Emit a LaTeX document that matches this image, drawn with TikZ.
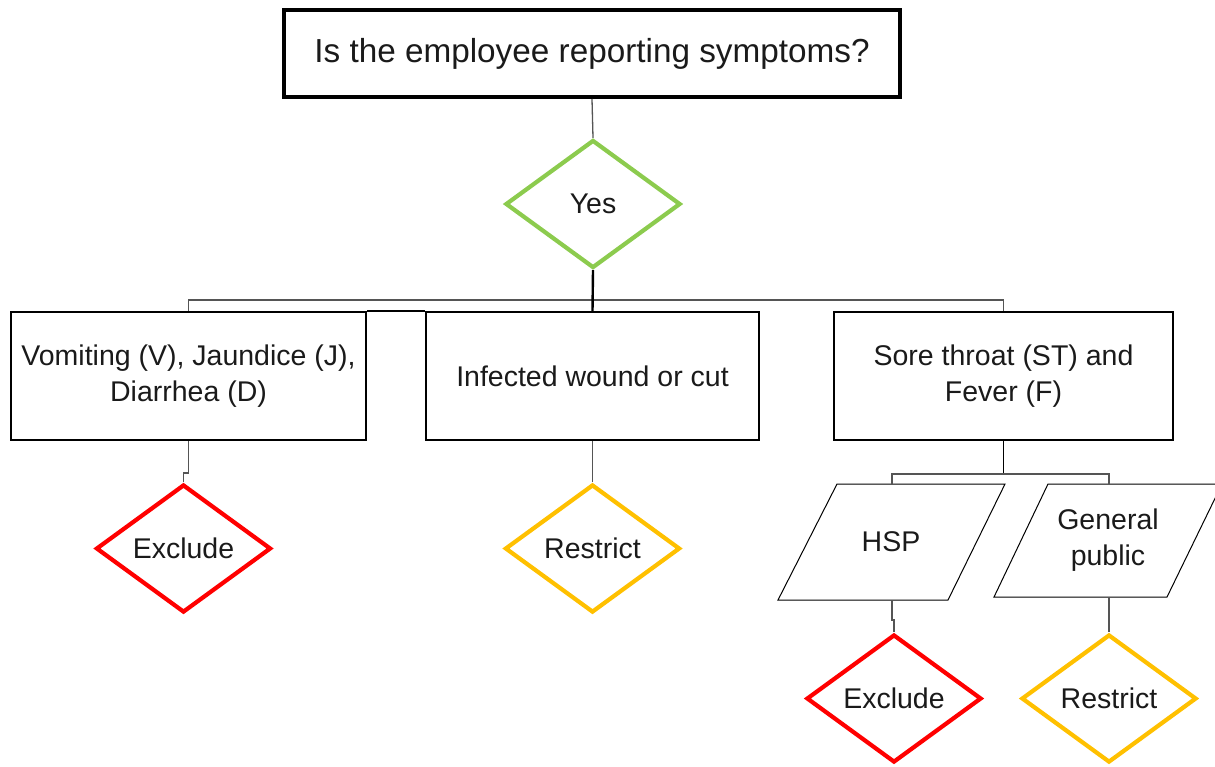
\documentclass[tikz,border=0pt]{standalone}
\usepackage{fontspec}
\setmainfont{Liberation Sans}
\usetikzlibrary{shapes.geometric}
\definecolor{yesgreen}{HTML}{8CCB4E}
\definecolor{exred}{HTML}{FF0000}
\definecolor{resorange}{HTML}{FFC000}
\definecolor{conngray}{HTML}{555555}
\definecolor{txt}{HTML}{1A1A1A}
\begin{document}
\begin{tikzpicture}[x=1pt,y=-1pt,
  every node/.style={text=txt, font=\fontsize{28.5}{35.5}\selectfont},
  topbox/.style={draw=black, line width=4pt, minimum width=616pt, minimum height=87pt, inner sep=0pt, font=\fontsize{33.3}{40}\selectfont},
  catbox/.style={draw=black, line width=2.2pt, minimum height=128pt, inner sep=0pt, align=center},
  dia/.style={diamond, draw, line width=4.2pt, aspect=1.37, minimum width=175pt, minimum height=128pt, inner sep=0pt},
  para/.style={draw=black, line width=1pt, line join=miter},
  conn/.style={draw=conngray, line width=1.3pt},
  boldconn/.style={draw=black, line width=2.4pt}
]
\useasboundingbox (0,0) rectangle (1215,766);

\node[topbox] (q) at (592,53.5) {Is the employee reporting symptoms?};
\node[dia, draw=yesgreen] (yes) at (593,204) {Yes};

\node[catbox, minimum width=355pt] (b1) at (188.5,376) {Vomiting (V), Jaundice (J),\\Diarrhea (D)};
\node[catbox, minimum width=333pt] (b2) at (592.5,376) {Infected wound or cut};
\node[catbox, minimum width=339pt] (b3) at (1003.5,376) {Sore throat (ST) and\\Fever (F)};

\node[dia, draw=exred] (ex1) at (183.5,548.5) {Exclude};
\node[dia, draw=resorange] (res1) at (592.5,548.5) {Restrict};

% parallelograms
\coordinate (hspA) at (837,484); \coordinate (hspB) at (1005,484);
\coordinate (hspC) at (948,600); \coordinate (hspD) at (778,600);
\draw[para] (hspA) -- (hspB) -- (hspC) -- (hspD) -- cycle;
\node (hsp) at (891,542) {HSP};
\coordinate (hsptop) at (892,484); \coordinate (hspbot) at (892,600);

\coordinate (gpA) at (1048,484); \coordinate (gpB) at (1222,484);
\coordinate (gpC) at (1167,597); \coordinate (gpD) at (994,597);
\draw[para] (gpA) -- (gpB) -- (gpC) -- (gpD) -- cycle;
\node[align=center] (gp) at (1108,540) {General\\public};
\coordinate (gptop) at (1109,484); \coordinate (gpbot) at (1109,597);

\node[dia, draw=exred] (ex2) at (894,698.5) {Exclude};
\node[dia, draw=resorange] (res2) at (1109,698.5) {Restrict};

% connectors
\draw[conn] (q.south) -- (yes.north);
\draw[conn] (b1.north) -- ++(0,-11) -| (b3.north);
\draw[boldconn] (yes.south) -- (b2.north);
\draw[boldconn] (b1.north east) -- (b2.north west);
\draw[conn] (b1.south) -- ++(0,32) -| (ex1.north);
\draw[conn] (b2.south) -- (res1.north);
\draw[boldconn, line width=1.6pt] (b3.south) -- ++(0,33) coordinate (split);
\draw[conn] (split) -| (hsptop);
\draw[conn] (split) -| (gptop);
\draw[conn] (hspbot) -- ++(0,20) -| (ex2.north);
\draw[conn] (gpbot) -- (res2.north);
\end{tikzpicture}
\end{document}
